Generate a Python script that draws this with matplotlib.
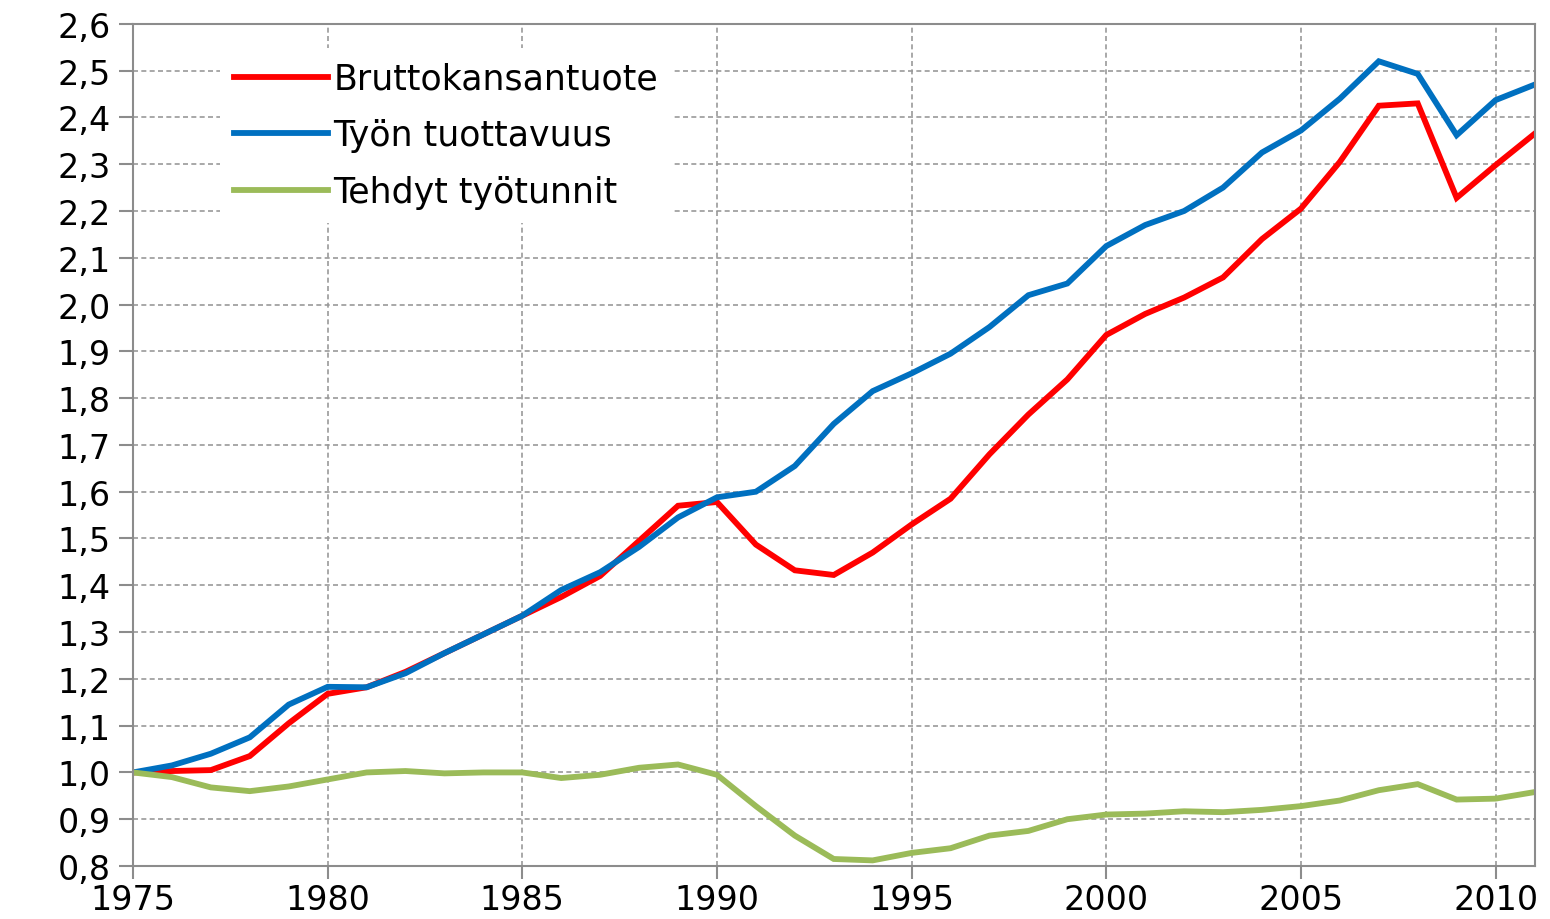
import matplotlib
matplotlib.use("Agg")
import matplotlib.pyplot as plt
from matplotlib.ticker import FuncFormatter, MultipleLocator

years = list(range(1975, 2012))

# Bruttokansantuote (index, 1975 = 1)
bkt = [1.000, 1.003, 1.005, 1.035, 1.105, 1.168, 1.182, 1.215, 1.255, 1.295,
       1.335, 1.375, 1.420, 1.495, 1.570, 1.578, 1.487, 1.432, 1.422, 1.470,
       1.530, 1.585, 1.680, 1.765, 1.840, 1.935, 1.980, 2.015, 2.058, 2.140,
       2.205, 2.305, 2.425, 2.430, 2.228, 2.298, 2.365]

# Työn tuottavuus
tuottavuus = [1.000, 1.015, 1.040, 1.075, 1.145, 1.183, 1.182, 1.212, 1.255, 1.295,
              1.335, 1.390, 1.428, 1.482, 1.545, 1.588, 1.600, 1.655, 1.745, 1.815,
              1.853, 1.895, 1.952, 2.020, 2.045, 2.125, 2.170, 2.200, 2.250, 2.325,
              2.372, 2.440, 2.520, 2.493, 2.362, 2.437, 2.470]

# Tehdyt työtunnit
tunnit = [1.000, 0.990, 0.968, 0.960, 0.970, 0.985, 1.000, 1.003, 0.998, 1.000,
          1.000, 0.988, 0.995, 1.010, 1.017, 0.995, 0.928, 0.865, 0.815, 0.812,
          0.828, 0.838, 0.865, 0.875, 0.900, 0.910, 0.912, 0.917, 0.915, 0.920,
          0.928, 0.940, 0.962, 0.975, 0.942, 0.944, 0.958]

labels = ["Bruttokansantuote", "Työn tuottavuus", "Tehdyt työtunnit"]
colors = ["#FF0000", "#0070C0", "#9BBB59"]

fig = plt.figure(figsize=(15.5, 9.2), dpi=100)
ax = fig.add_axes([0.0858, 0.0576, 0.9042, 0.9154])

for vals, lab, col in zip([bkt, tuottavuus, tunnit], labels, colors):
    ax.plot(years, vals, color=col, lw=4.2, label=lab, solid_joinstyle="miter")

ax.set_xlim(1975, 2011)
ax.set_ylim(0.8, 2.6)
ax.xaxis.set_major_locator(MultipleLocator(5))
ax.yaxis.set_major_locator(MultipleLocator(0.1))
ax.yaxis.set_major_formatter(FuncFormatter(lambda v, p: f"{v:.1f}".replace(".", ",")))

ax.grid(True, color="#999999", linestyle=(0, (3, 2)), linewidth=1.2)
ax.set_axisbelow(True)
for s in ax.spines.values():
    s.set_color("#8c8c8c")
    s.set_linewidth(1.5)
ax.tick_params(axis="both", colors="#8c8c8c", length=10, width=1.5,
               labelsize=24, labelcolor="black")
ax.tick_params(axis="y", pad=6)
ax.tick_params(axis="x", pad=3, length=9)

leg = ax.legend(loc="upper left", bbox_to_anchor=(0.05, 0.992), fontsize=25,
                frameon=True, framealpha=1, facecolor="white", edgecolor="none",
                fancybox=False, handlelength=2.7, handletextpad=0.15,
                labelspacing=0.65, borderpad=0.4)
for line in leg.get_lines():
    line.set_linewidth(4.2)

fig.savefig("out.png", dpi=100)
